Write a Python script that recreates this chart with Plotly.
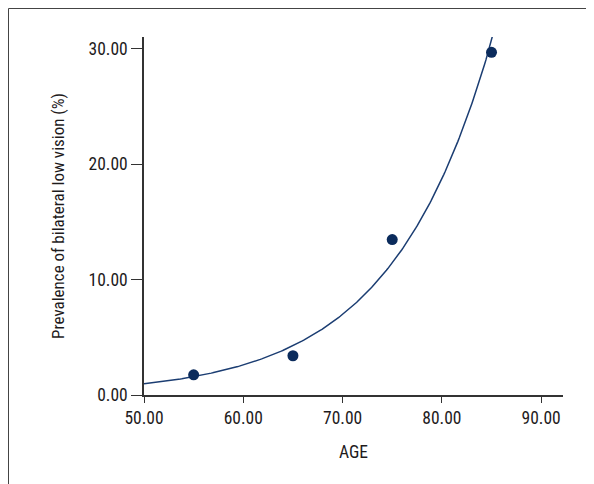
import numpy as np
import plotly.graph_objects as go

# Data
age = [55, 65, 75, 85]
prevalence = [1.75, 3.40, 13.46, 29.67]
x_ticks = [50, 60, 70, 80, 90]
y_ticks = [0, 10, 20, 30]

# Exponential fit (least squares on log), as in the original chart
b, ln_a = np.polyfit(age, np.log(prevalence), 1)
fit_x = np.linspace(50, 92.2, 300)
fit_y = np.exp(ln_a + b * fit_x)

FONT = "Roboto Condensed, DejaVu Sans Condensed, sans-serif"
TXT = "#1e1b1c"
NAVY = "#0b2b5c"

fig = go.Figure()
fig.add_trace(go.Scatter(x=fit_x, y=fit_y, mode="lines",
                         line=dict(color="#1b3d72", width=1.5),
                         hoverinfo="skip", showlegend=False))
fig.add_trace(go.Scatter(x=age, y=prevalence, mode="markers",
                         marker=dict(color=NAVY, size=11),
                         showlegend=False))

# page has an 8px body margin, so the figure is 8px smaller and offset
OFF = 8
W, H = 594 - OFF, 484 - OFF
L, T = 144 - OFF, 37 - OFF
R = W - (563 - OFF)
B = H - (395 - OFF)
pw = W - L - R
ph = H - T - B

def px2x(px):
    return (px - OFF - L) / pw

def px2y(py):
    return (H - B - (py - OFF)) / ph

fig.add_shape(type="path", xref="paper", yref="paper",
              path=f"M {px2x(8.5)} {px2y(520)} L {px2x(8.5)} {px2y(8.5)} L {px2x(590)} {px2y(8.5)} L {px2x(590)} {px2y(520)}",
              line=dict(color="#444444", width=1))

fig.update_layout(
    width=W, height=H,
    margin=dict(l=L, r=R, t=T, b=B),
    paper_bgcolor="white", plot_bgcolor="white",
    font=dict(family=FONT, size=17.5, color=TXT),
    xaxis=dict(range=[50, 92.2], tickvals=x_ticks, tickformat=".2f",
               showline=True, linecolor="#333333", linewidth=1.5,
               ticks="outside", ticklen=6, tickwidth=1.2, tickcolor="#333333",
               showgrid=False, zeroline=False,
               title=dict(text="AGE", font=dict(size=17.5), standoff=19)),
    yaxis=dict(range=[0, 31.0], tickvals=y_ticks, tickformat=".2f",
               showline=True, linecolor="#333333", linewidth=1.5,
               ticks="outside", ticklen=11, tickwidth=1.2, tickcolor="#333333",
               showgrid=False, zeroline=False,
               title=dict(text="Prevalence of bilateral low vision (%)",
                          font=dict(size=17), standoff=20)),
)

fig.write_html("out.html")
